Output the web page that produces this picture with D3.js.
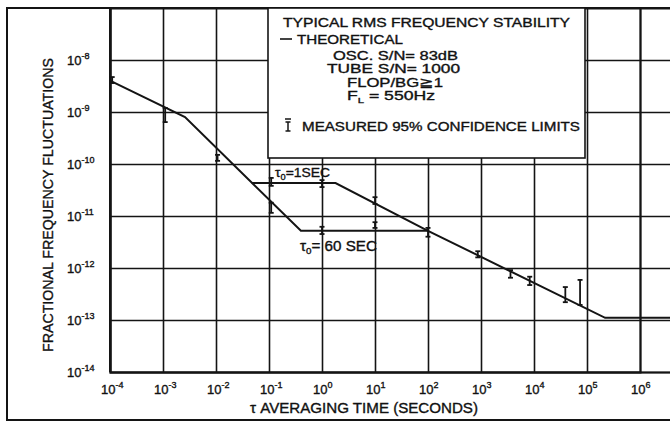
<!DOCTYPE html>
<html><head><meta charset="utf-8">
<script src="https://cdn.jsdelivr.net/npm/d3@7"></script>
<style>
body{margin:0;background:#fff}
svg{display:block}
text{font-family:"Liberation Sans",Arial,sans-serif;fill:#111;stroke:#111;stroke-width:0.35px}
</style>
</head><body>
<svg id="c" width="670" height="423"></svg>
<script>
// ---- data ----
const xTickExps = [-4,-3,-2,-1,0,1,2,3,4,5,6];
const yTickExps = [-8,-9,-10,-11,-12,-13,-14];
// theoretical curve, tau0 = 1 s branch (tau in s, sigma)
const theoryTau = [1e-4, 2.6e-3, 0.048, 1.8, 100, 2.2e5, 1e7];
const theorySigma = [4e-9, 8e-10, 4.3e-11, 4.3e-11, 5.2e-12, 1.1e-13, 1.1e-13];
// tau0 = 60 s branch
const branchTau = [0.048, 0.4, 100];
const branchSigma = [4.3e-11, 5.2e-12, 5.2e-12];
// measured 95% confidence limits
const measTau = [1.1e-4, 1.1e-3, 1.07e-2, 0.11, 0.11, 1.0, 1.0, 10, 10, 100, 870, 3.6e3, 8.3e3, 3.9e4, 7.4e4];
const measLo  = [3.6e-9, 6.4e-10, 1.15e-10, 1.15e-11, 3.8e-11, 3.6e-11, 4.5e-12, 1.7e-11, 5.9e-12, 4.0e-12, 1.6e-12, 6.5e-13, 4.7e-13, 2.2e-13, 1.95e-13];
const measHi  = [4.7e-9, 1.2e-9, 1.5e-10, 1.8e-11, 5.4e-11, 4.9e-11, 6.2e-12, 2.3e-11, 7.6e-12, 5.9e-12, 2.1e-12, 9.1e-13, 6.8e-13, 4.3e-13, 5.9e-13];
const legendLines = ["TYPICAL  RMS FREQUENCY STABILITY", "THEORETICAL", "OSC. S/N= 83dB", "TUBE S/N= 1000", "FLOP/BG\u22671"];

// ---- chart ----
const svg = d3.select("#c");
const ink = "#141414";
const x = d3.scaleLog().domain([1e-4, 1e6]).range([110, 640]);
const y = d3.scaleLog().domain([1e-14, 1e-7]).range([372, 8]);
const plotRight = 720;

// outer frame
svg.append("rect").attr("x",7).attr("y",8).attr("width",740).attr("height",412)
  .attr("fill","none").attr("stroke",ink).attr("stroke-width",2);

// grid via axes
const xVals = xTickExps.map(e => Math.pow(10,e));
const yVals = yTickExps.map(e => Math.pow(10,e));
const gx = svg.append("g").attr("transform","translate(0,372)")
  .call(d3.axisBottom(x).tickValues(xVals).tickSize(-(372-8)).tickFormat(""));
const gy = svg.append("g").attr("transform","translate(110,0)")
  .call(d3.axisLeft(y).tickValues(yVals).tickSize(-(plotRight-110)).tickFormat(""));
[gx,gy].forEach(g => {
  g.select(".domain").attr("stroke",ink).attr("stroke-width",2);
  g.selectAll(".tick line").attr("stroke",ink).attr("stroke-width",1.6);
});
svg.append("line").attr("x1",110).attr("x2",110).attr("y1",8).attr("y2",372).attr("stroke",ink).attr("stroke-width",2);

// tick labels
xTickExps.forEach(e => {
  const t = svg.append("text").attr("x", x(Math.pow(10,e)) - 9).attr("y", 394).attr("font-size", 13);
  t.append("tspan").text("10");
  t.append("tspan").attr("dy",-6).attr("font-size",9).text(e < 0 ? "-" + (-e) : String(e));
});
yTickExps.forEach(e => {
  const t = svg.append("text").attr("x", 67).attr("y", y(Math.pow(10,e)) + 5).attr("font-size", 13);
  t.append("tspan").text("10");
  t.append("tspan").attr("dy",-6).attr("font-size",9).text("-" + (-e));
});

// axis titles
svg.append("text").attr("transform","translate(53,205) rotate(-90)")
  .attr("text-anchor","middle").attr("font-size",15)
  .attr("textLength",294).attr("lengthAdjust","spacingAndGlyphs")
  .text("FRACTIONAL  FREQUENCY  FLUCTUATIONS");
svg.append("text").attr("x",250).attr("y",413).attr("font-size",14)
  .attr("textLength",228).attr("lengthAdjust","spacingAndGlyphs")
  .text("\u03C4  AVERAGING TIME (SECONDS)");

// legend box
svg.append("rect").attr("x",268).attr("y",8).attr("width",317).attr("height",150)
  .attr("fill","#fff").attr("stroke",ink).attr("stroke-width",1.6);
const lt = (tx, ty, txt, len) => svg.append("text").attr("x",tx).attr("y",ty).attr("font-size",12.5)
  .attr("textLength",len).attr("lengthAdjust","spacingAndGlyphs").text(txt);
lt(283, 27, legendLines[0], 287);
svg.append("line").attr("x1",280).attr("x2",292).attr("y1",39).attr("y2",39).attr("stroke",ink).attr("stroke-width",1.6);
lt(297, 44, legendLines[1], 106);
lt(333, 60, legendLines[2], 125);
lt(327, 73, legendLines[3], 133);
lt(347, 87, legendLines[4], 96);
const fl = svg.append("text").attr("x",347).attr("y",100).attr("font-size",12.5)
  .attr("textLength",88).attr("lengthAdjust","spacingAndGlyphs");
fl.append("tspan").text("F");
fl.append("tspan").attr("dy",3).attr("font-size",8).text("L");
fl.append("tspan").attr("dy",-3).text("  = 550Hz");
const ebar = (g, cx, y1, y2) => {
  g.append("line").attr("x1",cx).attr("x2",cx).attr("y1",y1).attr("y2",y2);
  g.append("line").attr("x1",cx-2.5).attr("x2",cx+2.5).attr("y1",y1).attr("y2",y1);
  g.append("line").attr("x1",cx-2.5).attr("x2",cx+2.5).attr("y1",y2).attr("y2",y2);
};
const lg = svg.append("g").attr("stroke",ink).attr("stroke-width",1.5);
ebar(lg, 288, 122, 131);
lg.append("line").attr("x1",285).attr("x2",291).attr("y1",119).attr("y2",119);
lt(302, 131, "MEASURED 95% CONFIDENCE LIMITS", 278);

// theoretical curves
const line = d3.line().x(d => x(d[0])).y(d => y(d[1]));
svg.append("path").datum(theoryTau.map((t,i)=>[t,theorySigma[i]]))
  .attr("d",line).attr("fill","none").attr("stroke",ink).attr("stroke-width",2);
svg.append("path").datum(branchTau.map((t,i)=>[t,branchSigma[i]]))
  .attr("d",line).attr("fill","none").attr("stroke",ink).attr("stroke-width",2);

// measured error bars
const mg = svg.append("g").attr("stroke",ink).attr("stroke-width",1.8);
measTau.forEach((t,i) => ebar(mg, x(t), y(measHi[i]), y(measLo[i])));

// annotations
const a1 = svg.append("text").attr("x",275).attr("y",177).attr("font-size",13.5)
  .attr("textLength",55).attr("lengthAdjust","spacingAndGlyphs");
a1.append("tspan").text("\u03C4");
a1.append("tspan").attr("dy",3).attr("font-size",9).text("0");
a1.append("tspan").attr("dy",-3).text("=1SEC");
const a2 = svg.append("text").attr("x",300).attr("y",251).attr("font-size",14)
  .attr("textLength",77).attr("lengthAdjust","spacingAndGlyphs");
a2.append("tspan").text("\u03C4");
a2.append("tspan").attr("dy",3).attr("font-size",9).text("0");
a2.append("tspan").attr("dy",-3).text("= 60 SEC");
</script>
</body></html>
